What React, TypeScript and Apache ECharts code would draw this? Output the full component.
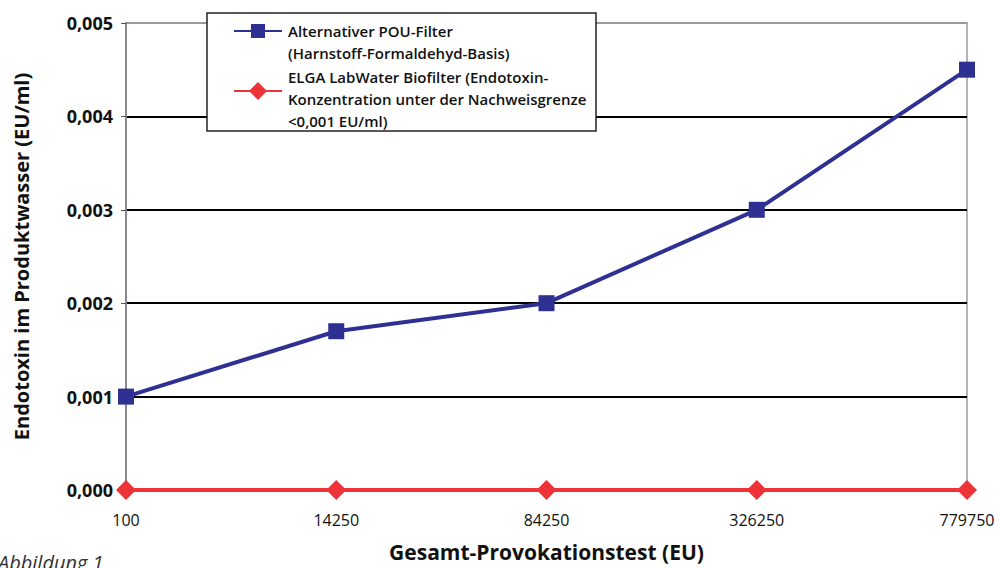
import React, { useEffect, useRef } from "react";
import * as echarts from "echarts";

const categories = ["100", "14250", "84250", "326250", "779750"];
const pouFilter = [0.001, 0.0017, 0.002, 0.003, 0.0045];
const elgaFilter = [0, 0, 0, 0, 0];
const seriesNames = [
  "Alternativer POU-Filter\n(Harnstoff-Formaldehyd-Basis)",
  "ELGA LabWater Biofilter (Endotoxin-\nKonzentration unter der Nachweisgrenze\n<0,001 EU/ml)",
];
const yTitle = "Endotoxin im Produktwasser (EU/ml)";
const xTitle = "Gesamt-Provokationstest (EU)";
const caption = "Abbildung 1";

const FONT = "'Open Sans', 'Noto Sans', sans-serif";
const BLUE = "#2e3192";
const RED = "#ee3338";

export default function App() {
  const ref = useRef<HTMLDivElement>(null);
  useEffect(() => {
    if (!ref.current) return;
    const chart = echarts.init(ref.current, undefined, { renderer: "svg" });
    chart.setOption({
      animation: false,
      backgroundColor: "#fff",
      textStyle: { fontFamily: FONT },
      grid: {
        left: 126,
        right: 28,
        top: 23,
        bottom: 78,
        containLabel: false,
        outerBoundsMode: "none",
        show: true,
        borderColor: "#b4b4b8",
        borderWidth: 2,
      },
      xAxis: {
        type: "category",
        data: categories,
        boundaryGap: false,
        axisLine: { show: false },
        axisTick: { show: false },
        axisLabel: { margin: 22, fontSize: 16, color: "#111", fontFamily: FONT },
        splitLine: { show: false },
        name: xTitle,
        nameLocation: "middle",
        nameGap: 51,
        nameTextStyle: { fontSize: 21, fontWeight: "bold", color: "#111", fontFamily: FONT },
      },
      yAxis: {
        type: "value",
        min: 0,
        max: 0.005,
        interval: 0.001,
        axisLine: { show: true, lineStyle: { color: "#8a8a8e", width: 2 } },
        axisTick: { show: true, length: 5, lineStyle: { color: "#555", width: 1 } },
        axisLabel: {
          margin: 13,
          fontSize: 18,
          fontWeight: "bold",
          color: "#111",
          fontFamily: FONT,
          formatter: (v: number) => v.toFixed(3).replace(".", ","),
        },
        splitLine: {
          show: true,
          lineStyle: {
            color: ["#000", "#000", "#000", "#000", "#000", "#9a9a9e"],
            width: 2,
          },
        },
        name: yTitle,
        nameLocation: "middle",
        nameGap: 95,
        nameTextStyle: { fontSize: 20, fontWeight: "bold", color: "#111", fontFamily: FONT },
      },
      series: [
        {
          name: seriesNames[0],
          type: "line",
          data: pouFilter,
          symbol: "rect",
          symbolSize: 16,
          lineStyle: { color: BLUE, width: 4 },
          itemStyle: { color: BLUE },
          z: 3,
        },
        {
          name: seriesNames[1],
          type: "line",
          data: elgaFilter,
          symbol: "diamond",
          symbolSize: 20,
          lineStyle: { color: RED, width: 4 },
          itemStyle: { color: RED },
          z: 4,
        },
      ],
      graphic: [
        {
          type: "rect",
          shape: { x: 207, y: 13, width: 389, height: 118 },
          style: { fill: "#fff", stroke: "#222", lineWidth: 1.5 },
          z: 100,
        },
        {
          type: "line",
          shape: { x1: 234, y1: 31, x2: 282, y2: 31 },
          style: { stroke: BLUE, lineWidth: 2 },
          z: 101,
        },
        {
          type: "rect",
          shape: { x: 251, y: 24, width: 14, height: 14 },
          style: { fill: BLUE },
          z: 102,
        },
        {
          type: "line",
          shape: { x1: 234, y1: 91, x2: 282, y2: 91 },
          style: { stroke: RED, lineWidth: 2 },
          z: 101,
        },
        {
          type: "polygon",
          shape: { points: [[258, 82], [267, 91], [258, 100], [249, 91]] },
          style: { fill: RED },
          z: 102,
        },
        {
          type: "text",
          x: 288,
          y: 20,
          style: {
            text: seriesNames[0],
            font: `600 15px ${FONT}`,
            fill: "#111",
            lineHeight: 22,
          },
          z: 103,
        },
        {
          type: "text",
          x: 288,
          y: 66,
          style: {
            text: seriesNames[1],
            font: `600 15px ${FONT}`,
            fill: "#111",
            lineHeight: 22,
          },
          z: 103,
        },
        {
          type: "text",
          x: -2,
          y: 552,
          style: {
            text: caption,
            font: `italic 20px ${FONT}`,
            fill: "#333",
          },
          z: 103,
        },
      ],
    });
    return () => chart.dispose();
  }, []);
  return <div ref={ref} style={{ width: 995, height: 568, position: "fixed", left: 0, top: 0 }} />;
}
